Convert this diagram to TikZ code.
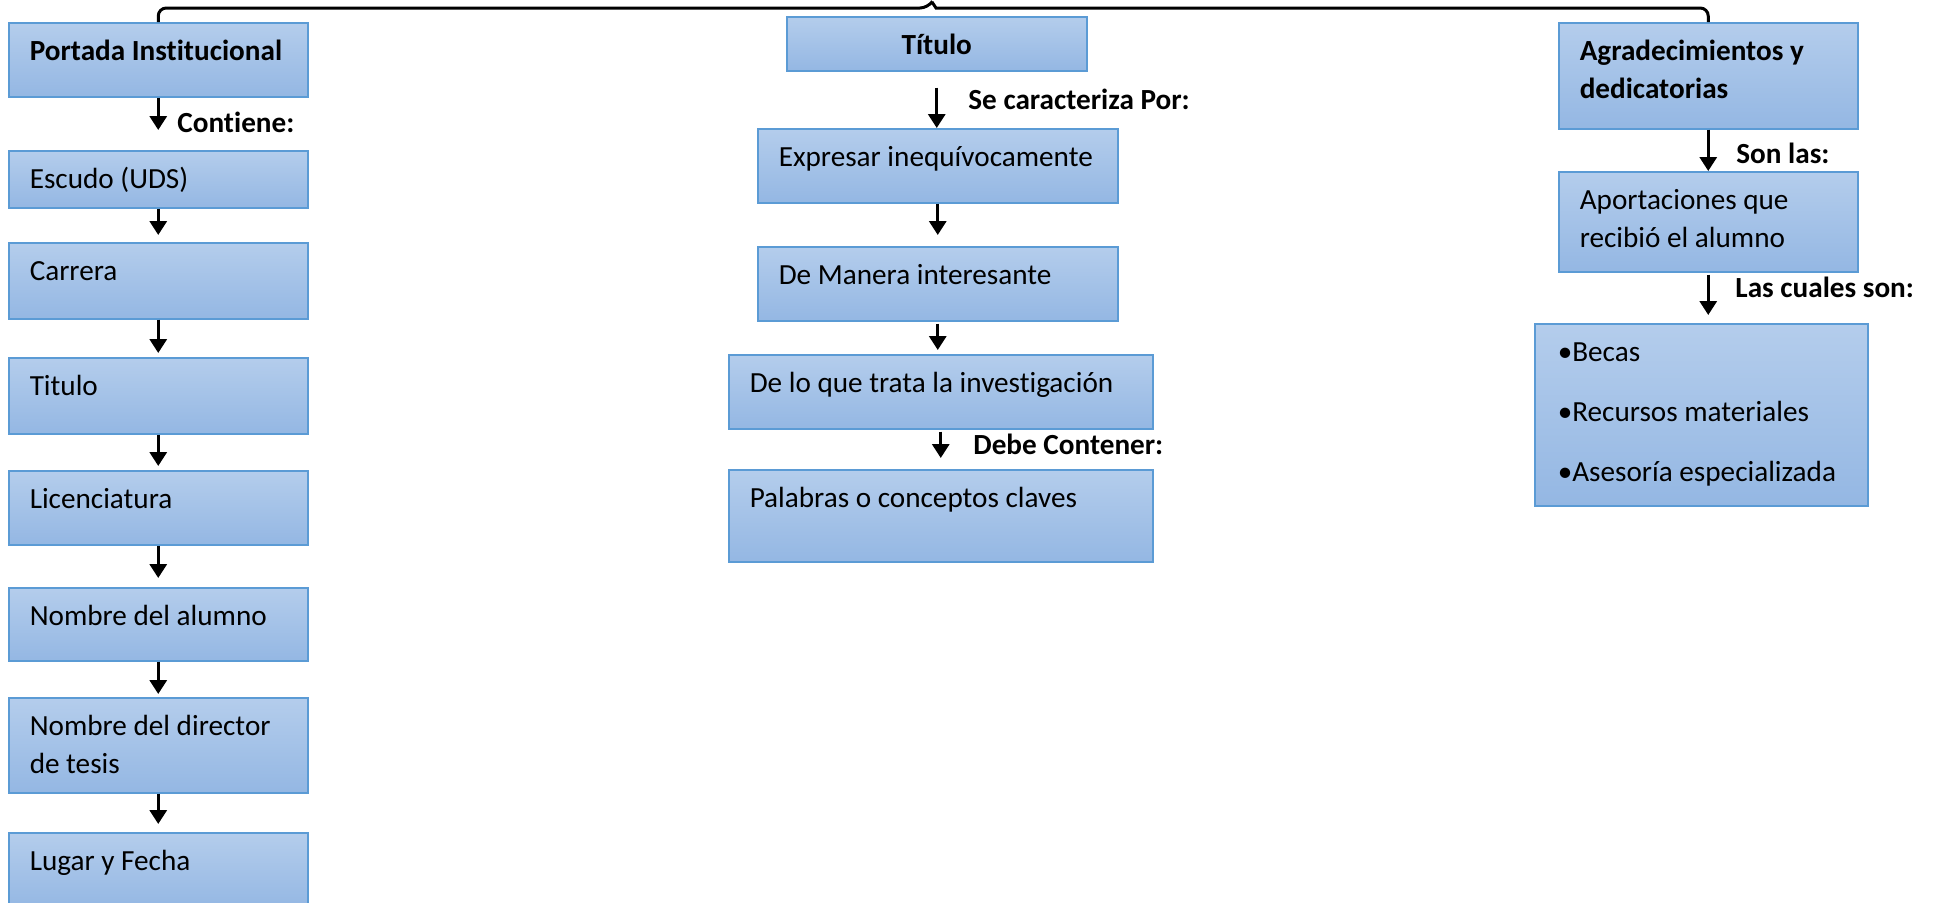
\documentclass[tikz,border=0pt]{standalone}
\usepackage{fontspec}
\setmainfont{Carlito}[Ligatures=NoCommon]
\usetikzlibrary{arrows.meta,calc}
\definecolor{bxborder}{RGB}{91,155,213}
\definecolor{bxtop}{RGB}{180,205,236}
\definecolor{bxbot}{RGB}{148,183,227}
\begin{document}
\begin{tikzpicture}[x=0.5pt,y=-0.5pt,
  every node/.style={font=\fontsize{14.6}{19}\selectfont},
  bx/.style={draw=bxborder, line width=0.75pt, top color=bxtop, bottom color=bxbot,
    anchor=north west, inner xsep=10.5pt, inner ysep=0pt, text height=19pt, align=flush left},
  lbl/.style={anchor=base west, inner sep=0pt, font=\fontsize{14.6}{19}\selectfont\bfseries},
  arr/.style={line width=1.6pt, -{Triangle[width=8.5pt,length=7pt]}},
]
\useasboundingbox (0,0) rectangle (1940,902);
% left column
\node[bx, text width=128.5pt, text depth=18pt] (portada) at (8,22) {\bfseries Portada Institucional};
\node[bx, text width=128.5pt, text depth=9.5pt] (escudo) at (8,150) {Escudo (UDS)};
\node[bx, text width=128.5pt, text depth=19pt] (carrera) at (8,242) {Carrera};
\node[bx, text width=128.5pt, text depth=19pt] (titulo) at (8,357) {Titulo};
\node[bx, text width=128.5pt, text depth=18pt] (lic) at (8,470) {Licenciatura};
\node[bx, text width=128.5pt, text depth=17.5pt] (alumno) at (8,587) {Nombre del alumno};
\node[bx, text width=128.5pt, text depth=28.5pt] (director) at (8,697) {Nombre del director\\de tesis};
\node[bx, text width=128.5pt, text depth=19pt] (lugar) at (8,832) {Lugar y Fecha};
% middle column
\node[bx, align=flush center, text width=129pt, text depth=8pt] (tituloM) at (786,16) {\bfseries Título};
\node[bx, text width=159pt, text depth=18pt] (expresar) at (757,128) {Expresar inequívocamente};
\node[bx, text width=159pt, text depth=18pt] (manera) at (757,246) {De Manera interesante};
\node[bx, text width=191pt, text depth=18pt] (trata) at (728,354) {De lo que trata la investigación};
\node[bx, text width=191pt, text depth=27pt] (palabras) at (728,469) {Palabras o conceptos claves};
% right column
\node[bx, text width=128.5pt, text depth=34pt] (agrad) at (1558,22) {\bfseries Agradecimientos y\\\bfseries dedicatorias};
\node[bx, text width=128.5pt, text depth=31pt] (aport) at (1558,171) {Aportaciones que\\recibió el alumno};
\node[bx, inner xsep=11.5pt, text width=143.5pt, text depth=72pt, font=\fontsize{14.6}{30}\selectfont] (bullets) at (1534,323) {•Becas\\•Recursos materiales\\•Asesoría especializada};
% labels
\node[lbl] (lcont) at (177,132) {Contiene:};
\node[lbl] (lcar) at (968,109) {Se caracteriza Por:};
\node[lbl] (ldebe) at (973,454) {Debe Contener:};
\node[lbl] (lson) at (1736,163) {Son las:};
\node[lbl] (lcuales) at (1735,297) {Las cuales son:};
% arrows left
\draw[arr, shorten >=10pt] (portada.south) -- (escudo.north);
\draw[arr, shorten >=3.5pt] (escudo.south) -- (carrera.north);
\draw[arr, shorten >=2pt] (carrera.south) -- (titulo.north);
\draw[arr, shorten >=2pt] (titulo.south) -- (lic.north);
\draw[arr, shorten >=4.5pt] (lic.south) -- (alumno.north);
\draw[arr, shorten >=1.5pt] (alumno.south) -- (director.north);
\draw[arr, shorten >=4pt] (director.south) -- (lugar.north);
% arrows middle
\draw[arr, shorten <=8pt] (tituloM.south) -- (tituloM.south |- expresar.north);
\draw[arr, shorten >=5.5pt] (expresar.south) -- (manera.north);
\draw[arr, shorten <=1pt, shorten >=2pt] (manera.south) -- (manera.south |- trata.north);
\draw[arr, shorten <=1pt, shorten >=5.5pt] (trata.south) -- (palabras.north);
% arrows right
\draw[arr] (agrad.south) -- (aport.north);
\draw[arr, shorten <=1pt, shorten >=4pt] (aport.south) -- (aport.south |- bullets.north);
% top bracket
\coordinate (peak) at (932,2);
\draw[line width=1.5pt] (portada.north) [rounded corners=4pt] |- (928,8) [sharp corners] -- (peak) -- (936,8) [rounded corners=4pt] -| (agrad.north);
\end{tikzpicture}
\end{document}
